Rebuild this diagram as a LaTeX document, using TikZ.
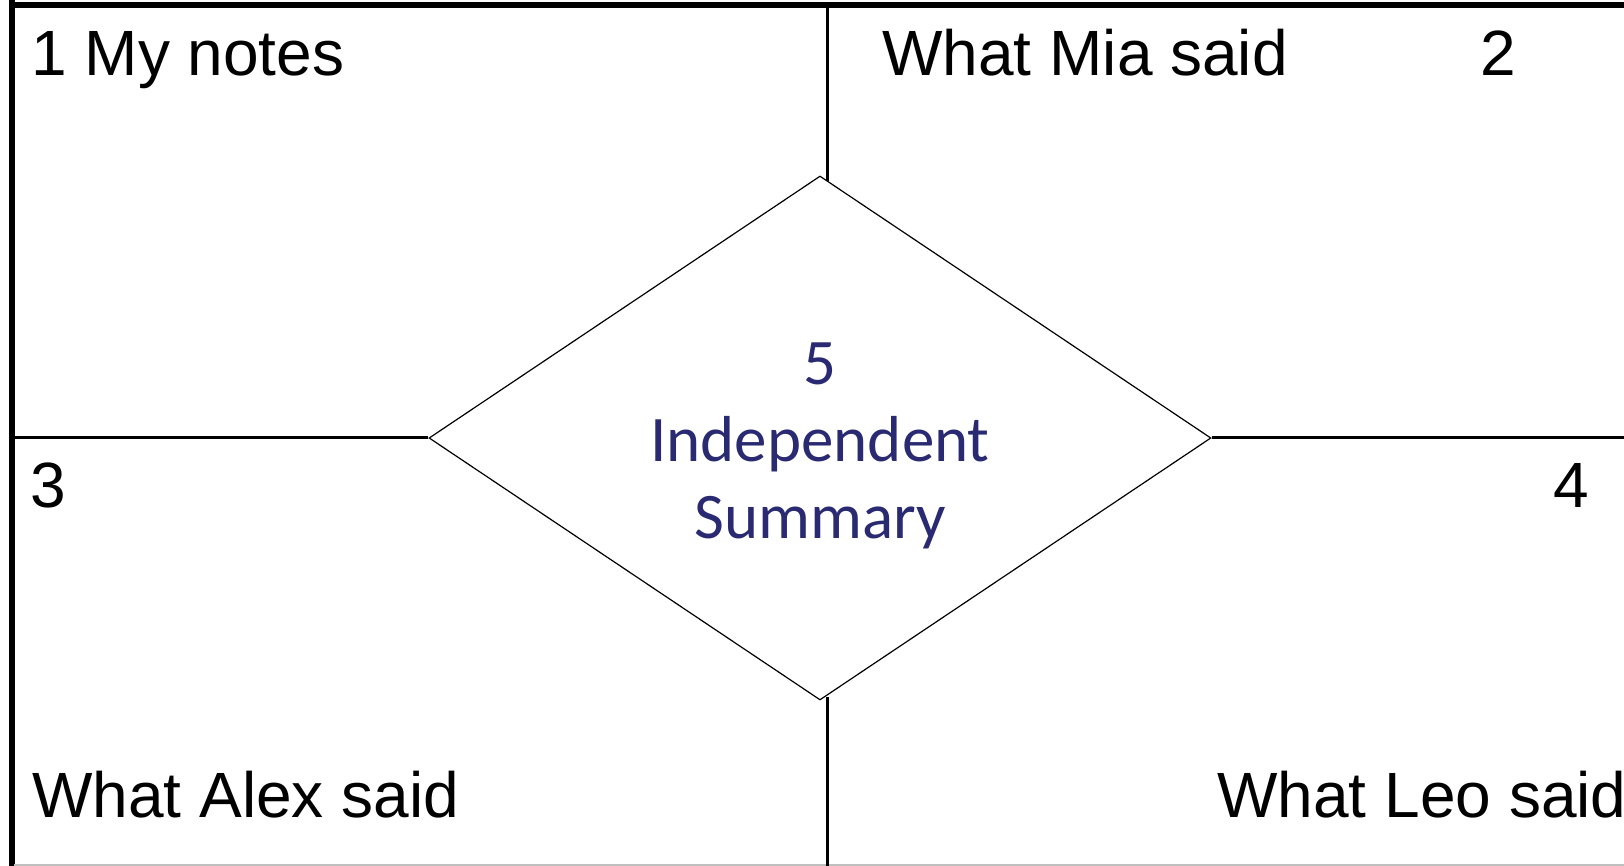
\documentclass[tikz,border=0pt]{standalone}
\usepackage{fontspec}
\setmainfont{Liberation Sans}
\newfontfamily\sumfont{Carlito}
\usetikzlibrary{shapes.geometric}
\definecolor{sumblue}{RGB}{42,42,114}

\begin{document}
\begin{tikzpicture}[x=0.5pt, y=-0.5pt,
  lbl/.style={anchor=base west, inner sep=0pt, font=\fontsize{32}{38}\selectfont},
  rule/.style={line width=1.5pt},
  frame/.style={line width=2.8pt}]
  \useasboundingbox (0,0) rectangle (1624,866);

  % outer frame
  \coordinate (tl) at (12,0);
  \coordinate (bl) at (12,866);
  \coordinate (tt) at (9,5);
  \coordinate (tr) at (1624,5);
  \coordinate (gl) at (14,865);
  \coordinate (gr) at (1624,865);
  \draw[frame] (tl) -- (bl);
  \draw[frame] (tt) -- (tr);
  \draw[gray!50, line width=0.6pt] (gl) -- (gr);

  % centre diamond
  \node (sum) at (820,438) [diamond, draw, line width=0.6pt, aspect=1.49,
    inner sep=0pt, minimum width=391pt, minimum height=262pt] {};
  \node (sumtext) at (820,446) [align=center, text=sumblue, inner sep=0pt,
    font=\sumfont\fontsize{32.5}{38.5}\selectfont] {5\\Independent\\Summary};

  % dividing lines
  \coordinate (midtop) at (827,5);
  \coordinate (midup) at (827,181);
  \coordinate (middown) at (827,697);
  \coordinate (midbot) at (827,866);
  \coordinate (leftmid) at (12,438);
  \coordinate (rightmid) at (1624,438);
  \draw[rule] (midtop) -- (midup);
  \draw[rule] (middown) -- (midbot);
  \draw[rule] (leftmid) -- (sum.west);
  \draw[rule] (sum.east) -- (rightmid);

  % quadrant labels
  \node[lbl] (mine) at (31,76) {1 My notes};
  \node[lbl] (mia) at (882,76) {What Mia said};
  \node[lbl] (two) at (1480,76) {2};
  \node[lbl] (three) at (30,508) {3};
  \node[lbl] (four) at (1553,508) {4};
  \node[lbl] (alex) at (32,817) {What Alex said};
  \node[lbl] (leo) at (1217,817) {What Leo said};
\end{tikzpicture}
\end{document}
